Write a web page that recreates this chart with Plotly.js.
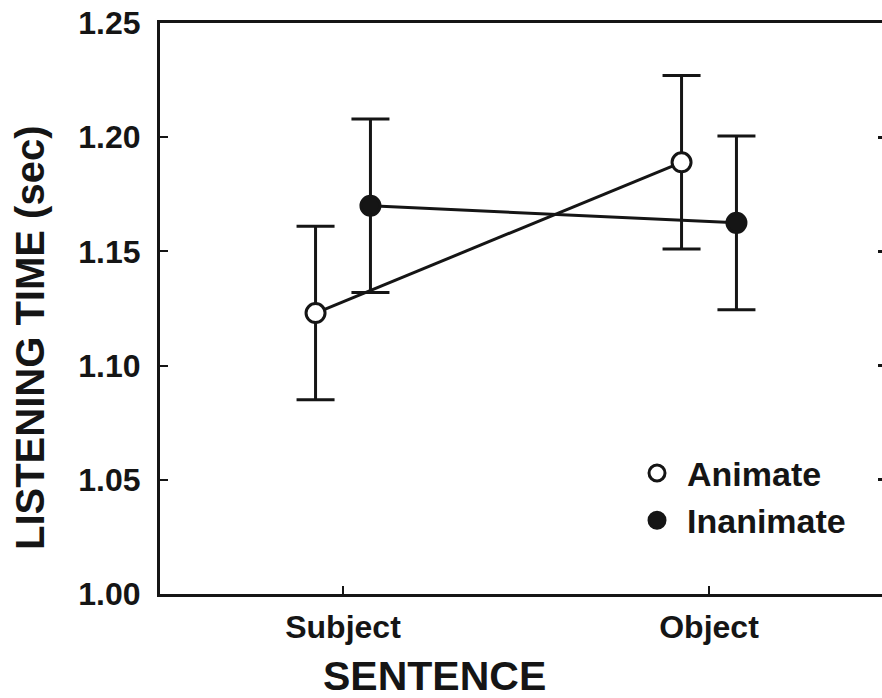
<!DOCTYPE html>
<html>
<head>
<meta charset="utf-8">
<script src="https://cdn.plot.ly/plotly-3.0.1.min.js"></script>
<style>
html,body{margin:0;padding:0;overflow:hidden;background:#fff;width:882px;height:698px;}
#chart{width:902px;height:698px;}
</style>
</head>
<body>
<div id="chart"></div>
<script>
// Data
var categories = ['Subject', 'Object'];
var animateMeans = [1.123, 1.189];
var animateErr = [0.038, 0.038];
var inanimateMeans = [1.170, 1.1625];
var inanimateErr = [0.038, 0.038];
var seriesNames = ['Animate', 'Inanimate'];
var yTickVals = [1.00, 1.05, 1.10, 1.15, 1.20, 1.25];
var yTickText = ['1.00', '1.05', '1.10', '1.15', '1.20', '1.25'];
var xTitle = 'SENTENCE';
var yTitle = 'LISTENING TIME (sec)';

var ink = '#151515';
var FONT = 'Liberation Sans, Arial, Helvetica, sans-serif';

function seriesTrace(name, means, errs, filled, group) {
  return {
    type: 'scatter', mode: 'lines+markers', name: name, showlegend: false,
    x: categories, y: means, offsetgroup: group,
    line: {color: ink, width: 3},
    marker: {symbol: 'circle', size: 19, color: filled ? ink : '#ffffff', line: {color: ink, width: 3}},
    error_y: {type: 'data', array: errs, visible: true, color: ink, thickness: 3, width: 19},
    cliponaxis: false
  };
}
function legendTrace(name, filled, group) {
  return {
    type: 'scatter', mode: 'markers', name: name, showlegend: true,
    x: [null], y: [null], offsetgroup: group, yaxis: 'y2',
    marker: {symbol: 'circle', size: 16, color: filled ? ink : '#ffffff', line: {color: ink, width: 3}}
  };
}

var data = [
  seriesTrace(seriesNames[0], animateMeans, animateErr, false, 'a'),
  seriesTrace(seriesNames[1], inanimateMeans, inanimateErr, true, 'b'),
  legendTrace(seriesNames[0], false, 'a'),
  legendTrace(seriesNames[1], true, 'b')
];

var layout = {
  width: 902, height: 698,
  margin: {l: 160, r: 10, t: 23, b: 104},
  paper_bgcolor: '#ffffff', plot_bgcolor: '#ffffff',
  scattermode: 'group', scattergap: 0.70,
  font: {family: FONT, color: ink, size: 30, weight: 'bold'},
  showlegend: true,
  legend: {
    x: 0.638, y: 0.262, xanchor: 'left', yanchor: 'top',
    bgcolor: 'rgba(0,0,0,0)', borderwidth: 0,
    font: {family: FONT, size: 34, color: ink, weight: 'bold'},
    itemwidth: 50, tracegroupgap: 0
  },
  xaxis: {
    type: 'category', range: [-0.5, 1.5],
    showgrid: false, zeroline: false,
    showline: true, linecolor: ink, linewidth: 3, mirror: true,
    ticks: 'inside', ticklen: 8, tickwidth: 2, tickcolor: ink,
    tickfont: {family: FONT, size: 32, color: ink, weight: 'bold'},
    ticklabelstandoff: 3
  },
  yaxis: {
    range: [1.0, 1.25], tickvals: yTickVals, ticktext: yTickText,
    showgrid: false, zeroline: false,
    showline: true, linecolor: ink, linewidth: 3,
    ticks: 'inside', ticklen: 8, tickwidth: 2, tickcolor: ink,
    tickfont: {family: FONT, size: 32, color: ink, weight: 'bold'},
    ticklabelstandoff: 10
  },
  yaxis2: {
    overlaying: 'y', side: 'right', range: [1.0, 1.25], tickvals: yTickVals,
    showgrid: false, zeroline: false, showline: false, showticklabels: false,
    ticks: 'inside', ticklen: 14, tickwidth: 3, tickcolor: ink
  },
  annotations: [{
    text: xTitle, xref: 'paper', yref: 'paper', x: 0.375, y: -0.099,
    xanchor: 'center', yanchor: 'top', showarrow: false,
    font: {family: FONT, size: 41, color: ink, weight: 'bold'}
  }, {
    text: yTitle, xref: 'paper', yref: 'paper', x: -0.1776, y: 0.45,
    xanchor: 'center', yanchor: 'middle', textangle: -90, showarrow: false,
    font: {family: FONT, size: 40, color: ink, weight: 'bold'}
  }]
};

Plotly.newPlot('chart', data, layout, {displayModeBar: false, staticPlot: true});
</script>
</body>
</html>
